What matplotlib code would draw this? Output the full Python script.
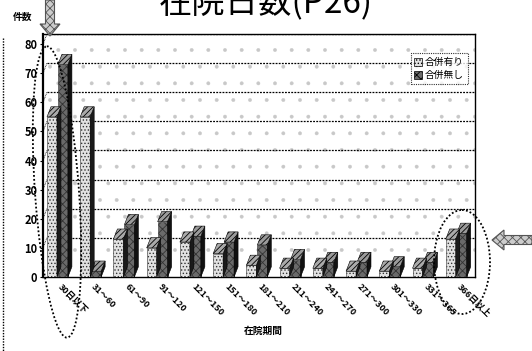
import matplotlib
matplotlib.use("Agg")
import matplotlib.pyplot as plt
from matplotlib.patches import Polygon, Rectangle, Ellipse, FancyArrow
import numpy as np

plt.rcParams['font.family'] = ['Noto Sans CJK JP', 'DejaVu Sans']
plt.rcParams['hatch.linewidth'] = 0.6

categories = ["30日以下", "31～60", "61～90", "91～120", "121～150", "151～180",
              "181～210", "211～240", "241～270", "271～300", "301～330",
              "331～365", "366日以上"]
with_comp = [55, 55, 13, 10, 12, 8, 4, 3, 3, 2, 2, 3, 13]
without_comp = [73, 2, 18, 19, 14, 12, 11, 6, 5, 5, 3.5, 5, 15]
series_names = ["合併有り", "合併無し"]
y_ticks = [0, 10, 20, 30, 40, 50, 60, 70, 80]

W, H = 532, 351
fig = plt.figure(figsize=(W / 100, H / 100), dpi=100)
ax = fig.add_axes([43 / W, 1 - 277 / H, (475 - 43) / W, (277 - 34) / H])

DX, DY = 0.12, 3.5          # depth offset of the 3D look (x units, value units)
ax.set_xlim(-0.5, 12.5)
ax.set_ylim(0, 80 + DY)

# back wall with a sparse dotted texture
wall = Rectangle((-0.5 + DX, DY), 13, 80, facecolor='white',
                 edgecolor='#c8c8c8', hatch='.', lw=0, zorder=0)
try:
    wall.set_hatch_linewidth(0.3)
except AttributeError:
    pass
ax.add_patch(wall)
for v in y_ticks[1:]:
    ax.plot([-0.5, -0.5 + DX], [v, v + DY], color='black', lw=0.6, ls=(0, (1, 1)), zorder=1)
    ax.plot([-0.5 + DX, 12.5], [v + DY, v + DY], color='black', lw=0.9,
            ls=(0, (1.5, 1)), zorder=1)

def bar3d(x0, w, h, front, fhatch, side, top, z):
    ax.add_patch(Rectangle((x0, 0), w, h, facecolor=front, edgecolor='#333333',
                           hatch=fhatch, lw=0.4, zorder=z))
    ax.add_patch(Polygon([(x0 + w, 0), (x0 + w + DX, DY), (x0 + w + DX, h + DY), (x0 + w, h)],
                         closed=True, facecolor=side, edgecolor='black', lw=0.4, zorder=z))
    ax.add_patch(Polygon([(x0, h), (x0 + DX, h + DY), (x0 + w + DX, h + DY), (x0 + w, h)],
                         closed=True, facecolor=top, edgecolor='black', hatch='//////',
                         lw=0.4, zorder=z))

bw = 0.3
xs = np.arange(len(categories))
for i in range(len(categories)):
    # hatched series stands slightly behind, light series in front
    bar3d(xs[i] - 0.05, bw, without_comp[i], '#6a6a6a', 'xxxx', '#111111', '#9a9a9a', 3)
    bar3d(xs[i] - 0.38, bw, with_comp[i], '#e2e2e2', '.....', '#1a1a1a', '#aaaaaa', 4)

ax.set_yticks(y_ticks)
ax.set_yticklabels([str(t) for t in y_ticks], fontsize=8, fontweight='bold')
ax.tick_params(axis='y', length=2, pad=2)
ax.set_xticks(xs)
ax.set_xticklabels(categories, rotation=-45, ha='left', va='center',
                   rotation_mode='anchor', fontsize=6.5, fontweight='bold')
ax.tick_params(axis='x', length=0, pad=6)
for name in ['top', 'right', 'bottom']:
    ax.spines[name].set_linestyle((0, (1, 1)))
    ax.spines[name].set_linewidth(1.0)
ax.spines['left'].set_linewidth(1.6)

leg_handles = [Rectangle((0, 0), 1, 1, facecolor='#e2e2e2', edgecolor='black', hatch='.....', lw=0.5),
               Rectangle((0, 0), 1, 1, facecolor='#6a6a6a', edgecolor='black', hatch='xxxx', lw=0.5)]
leg = ax.legend(leg_handles, series_names, loc='upper right', bbox_to_anchor=(0.995, 0.94),
                fontsize=7, frameon=True, fancybox=False, handlelength=0.8,
                handleheight=0.8, handletextpad=0.3, borderpad=0.4, labelspacing=0.3)
leg.get_frame().set_edgecolor('black')
leg.get_frame().set_linestyle((0, (1, 1)))
leg.get_frame().set_linewidth(0.8)

ax.set_xlabel("在院期間", fontsize=7, fontweight='bold', labelpad=6)
ax.xaxis.set_label_coords(0.51, -0.2)

# page overlay in pixel coordinates
ov = fig.add_axes([0, 0, 1, 1], facecolor='none')
ov.set_xlim(0, W)
ov.set_ylim(H, 0)
ov.axis('off')
ov.text(266, 3, "在院日数(P26)", fontsize=24, ha='center', va='center')
ov.text(23, 17, "件数", fontsize=7, fontweight='bold', ha='center', va='center')
ov.plot([3, 3], [38, 351], color='black', lw=1.0, ls=(0, (1, 1)))
ov.add_patch(Ellipse((57, 192), 44, 292, angle=-4, fill=False, edgecolor='black',
                     lw=1.3, ls=(0, (1, 1.2))))
ov.add_patch(Ellipse((462, 262), 56, 104, angle=0, fill=False, edgecolor='black',
                     lw=1.3, ls=(0, (1, 1.2))))
ov.add_patch(FancyArrow(50, 0, 0, 36, width=9, head_width=20, head_length=12,
                        length_includes_head=True, facecolor='#cccccc',
                        edgecolor='#555555', hatch='xxxx', lw=0.8))
ov.add_patch(FancyArrow(532, 240, -40, 0, width=9, head_width=20, head_length=12,
                        length_includes_head=True, facecolor='#cccccc',
                        edgecolor='#555555', hatch='xxxx', lw=0.8))

fig.savefig("out.png", dpi=100)
